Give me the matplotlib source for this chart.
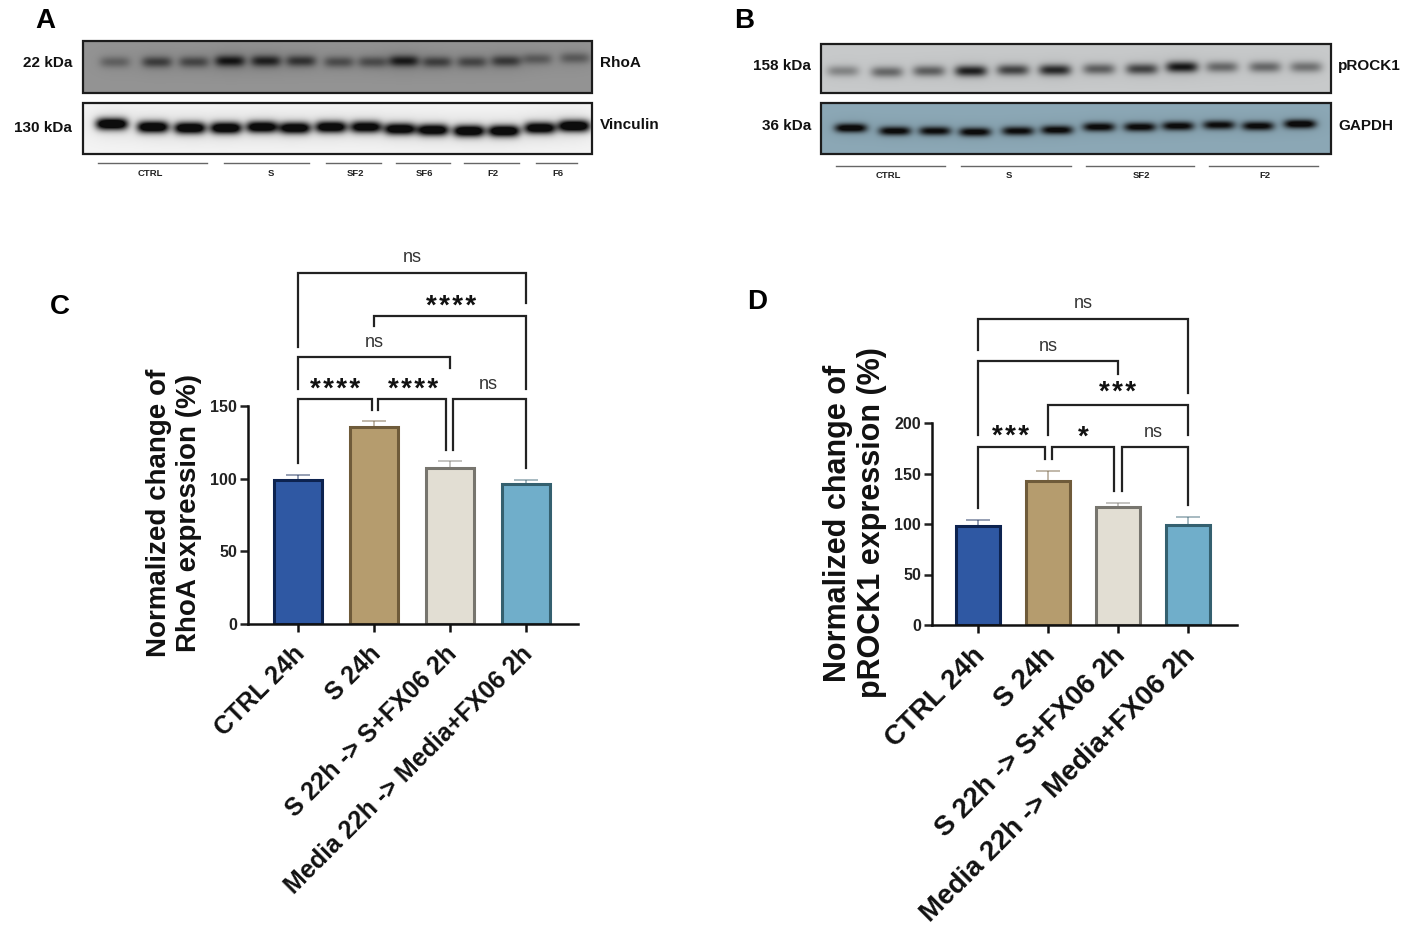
import numpy as np
import matplotlib
matplotlib.use("Agg")
import matplotlib.pyplot as plt
from matplotlib.patches import Rectangle
from matplotlib.transforms import ScaledTranslation

plt.rcParams['font.family'] = ['Liberation Sans', 'DejaVu Sans']
W, H = 1417, 944

groups = ['CTRL 24h', 'S 24h', 'S 22h -> S+FX06 2h', 'Media 22h -> Media+FX06 2h']
bar_colors = ['#2f58a3', '#b59c6e', '#e2ded3', '#70aeca']
edge_colors = ['#0d2350', '#6f5b3a', '#77756e', '#34606f']

rhoa_vals = [99, 135.5, 107, 96.5]
rhoa_tops = [102.5, 139.7, 112, 99]
rock_vals = [98.5, 142.5, 116.5, 99.5]
rock_tops = [103.5, 152, 121, 107]

# x1, x2, y, end of left leg, end of right leg
rhoa_brackets = [(0, 3, 241.5, 190.6, 221), (1, 3, 212, 205, 162), (0, 2, 183.6, 162, 176),
                 (0, 0.97, 155, 111, 147), (1.05, 1.95, 155, 147, 120), (2.04, 3, 155, 120, 107)]
rock_brackets = [(0, 3, 303, 272, 230), (0, 2, 261, 188, 248.5), (1, 3, 218, 188, 188),
                 (0, 0.96, 176, 116, 164), (1.06, 1.94, 176, 164, 133), (2.06, 3, 176, 133, 119)]
# text, x, y
rhoa_notes = [('ns', 1.5, 252), ('****', 2.01, 218), ('ns', 1.0, 194),
              ('****', 0.49, 161), ('****', 1.51, 161), ('ns', 2.5, 164.5)]
rock_notes = [('ns', 1.5, 318), ('ns', 1.0, 276), ('***', 2.0, 230),
              ('***', 0.47, 186), ('*', 1.5, 186), ('ns', 2.5, 191)]

# blots: lane x, lane y, band strength
rhoa_x = [115, 157, 194, 230, 266, 301, 339, 373, 404, 437, 472, 506, 537, 575]
rhoa_y = [62, 62, 62, 61, 61, 61, 62, 62, 61, 62, 62, 61, 59, 58]
rhoa_s = [0.35, 0.62, 0.55, 0.95, 0.85, 0.7, 0.5, 0.5, 0.9, 0.6, 0.55, 0.65, 0.4, 0.4]
vinc_x = [112, 153, 190, 226, 262, 295, 331, 366, 400, 433, 469, 504, 540, 574]
vinc_y = [124, 127, 128, 128, 127, 128, 127, 127, 129, 130, 131, 131, 128, 126]
vinc_s = [1.4, 1.35, 1.35, 1.35, 1.3, 1.3, 1.3, 1.25, 1.3, 1.3, 1.35, 1.35, 1.3, 1.4]
prock_x = [843, 887, 929, 971, 1013, 1055, 1099, 1142, 1182, 1222, 1265, 1306]
prock_y = [71, 72, 71, 71, 70, 70, 69, 69, 67, 67, 67, 67]
prock_s = [0.35, 0.5, 0.55, 0.9, 0.7, 0.85, 0.55, 0.7, 0.95, 0.5, 0.5, 0.45]
gapdh_x = [851, 895, 935, 975, 1018, 1057, 1099, 1140, 1178, 1219, 1258, 1300]
gapdh_y = [128, 131, 131, 132, 131, 130, 127, 127, 126, 125, 126, 124]
gapdh_s = [1.2, 1.1, 1.05, 1.1, 1.05, 1.1, 1.1, 1.1, 1.1, 1.05, 1.1, 1.2]

# panel A and B group lines: x1, x2, label, label x
a_lines = [(98, 207, 'CTRL', 150), (224, 309, 'S', 271), (326, 381, 'SF2', 355),
           (396, 450, 'SF6', 424), (464, 519, 'F2', 493), (536, 577, 'F6', 558)]
b_lines = [(836, 945, 'CTRL', 888), (961, 1071, 'S', 1009), (1086, 1194, 'SF2', 1141),
           (1209, 1318, 'F2', 1265)]

fig = plt.figure(figsize=(W / 100, H / 100), dpi=100)

# overlay in picture pixels for the blots and their labels
top = fig.add_axes([0, 0, 1, 1])
top.axis('off')


def blot(box, xs, ys, ss, bg, halo, wx, wy):
    x0, y0, x1, y1 = box
    xx, yy = np.meshgrid(np.arange(x0, x1) + 0.5, np.arange(y0, y1) + 0.5)
    dark = np.zeros(xx.shape)
    glow = np.zeros(xx.shape)
    for cx, cy, s in zip(xs, ys, ss):
        dark += s * np.exp(-((xx - cx) / wx) ** 4 - ((yy - cy) / wy) ** 2)
        glow += s * np.exp(-((xx - cx) / (wx * 1.5)) ** 2 - ((yy - cy) / (wy * 2.5)) ** 2)
    dark = np.clip(dark, 0, 1)[..., None]
    glow = np.clip(glow, 0, 1)[..., None]
    img = np.array(bg, float) * (1 - halo * glow)
    img = img * (1 - dark) + 12 * dark
    top.imshow(img.astype(np.uint8), extent=(x0, x1, y1, y0), aspect='auto', interpolation='bilinear', zorder=1)
    top.add_patch(Rectangle((x0, y0), x1 - x0, y1 - y0, fill=False, ec='#1c1c1c', lw=1.6, zorder=2))


blot((83, 41, 592, 93), rhoa_x, rhoa_y, rhoa_s, (148, 148, 148), 0.12, 15, 5.5)
blot((83, 103, 592, 154), vinc_x, vinc_y, vinc_s, (244, 244, 244), 0.06, 16, 6)
blot((821, 44, 1331, 93), prock_x, prock_y, prock_s, (200, 202, 203), 0.06, 16, 5.5)
blot((821, 103, 1331, 154), gapdh_x, gapdh_y, gapdh_s, (140, 168, 182), 0.05, 16, 4.5)

for x1, x2, name, lx in a_lines:
    top.plot([x1, x2], [163, 163], color='#666666', lw=1, zorder=2)
    top.text(lx, 173, name, fontsize=6.8, fontweight='bold', ha='center', va='center', color='#222222')
for x1, x2, name, lx in b_lines:
    top.plot([x1, x2], [166, 166], color='#666666', lw=1, zorder=2)
    top.text(lx, 176, name, fontsize=6.8, fontweight='bold', ha='center', va='center', color='#222222')

for s, x, y in [('22 kDa', 72, 63), ('130 kDa', 72, 128), ('158 kDa', 811, 66), ('36 kDa', 811, 126)]:
    top.text(x, y, s, fontsize=11, fontweight='bold', ha='right', va='center', color='#111111')
for s, x, y in [('RhoA', 600, 63), ('Vinculin', 600, 125), ('pROCK1', 1338, 66), ('GAPDH', 1338, 126)]:
    top.text(x, y, s, fontsize=11, fontweight='bold', ha='left', va='center', color='#111111')
for s, x, y in [('A', 45, 21), ('B', 744, 21), ('C', 60, 307), ('D', 757, 302)]:
    top.text(x, y, s, fontsize=20, fontweight='bold', ha='center', va='center', color='black')

top.text(174, 513, 'Normalized change of\nRhoA expression (%)', rotation=90, fontsize=20, fontweight='bold',
         ha='center', va='center', linespacing=1.2, color='#111111')
top.text(855, 523, 'Normalized change of\npROCK1 expression (%)', rotation=90, fontsize=22, fontweight='bold',
         ha='center', va='center', linespacing=1.2, color='#111111')
top.set_xlim(0, W)
top.set_ylim(H, 0)


def bar_panel(box, xlim, ymax, yticks, vals, tops, brackets, notes, label_size):
    l, t, r, b = box
    ax = fig.add_axes([l / W, 1 - b / H, (r - l) / W, (b - t) / H])
    ax.patch.set_alpha(0)
    xs = np.arange(len(vals))
    ax.bar(xs, vals, width=0.64, color=bar_colors, edgecolor=edge_colors, linewidth=2.2, zorder=2)
    for x, v, tp, ec in zip(xs, vals, tops, edge_colors):
        ax.errorbar(x, v, yerr=[[0], [tp - v]], color=ec, alpha=0.55, capsize=8.5, capthick=1.1, elinewidth=1.1, zorder=1)
    ax.set_xlim(*xlim)
    ax.set_ylim(0, ymax)
    ax.set_yticks(yticks)
    ax.set_xticks(xs)
    ax.set_xticklabels(groups, rotation=45, ha='right', rotation_mode='anchor', fontsize=label_size, fontweight='bold')
    ax.tick_params(axis='x', length=5.5, width=1.8, pad=7, colors='#111111')
    ax.tick_params(axis='y', length=5.8, width=1.8, pad=2, labelsize=11.5, colors='#222222')
    shift = ScaledTranslation(-4 / 72, 0, fig.dpi_scale_trans)
    for tick in ax.get_xticklabels():
        tick.set_transform(tick.get_transform() + shift)
    for tick in ax.get_yticklabels():
        tick.set_fontweight('bold')
    for side in ['top', 'right']:
        ax.spines[side].set_visible(False)
    for side in ['left', 'bottom']:
        ax.spines[side].set_linewidth(1.8)
        ax.spines[side].set_color('#111111')
    for x1, x2, y, e1, e2 in brackets:
        ax.plot([x1, x1, x2, x2], [e1, y, y, e2], color='#222222', lw=1.6, clip_on=False,
                solid_joinstyle='miter', zorder=3)
    for s, x, y in notes:
        is_star = s.startswith('*')
        shown = '\u200a'.join(s) if is_star else s
        ax.text(x, y, shown, ha='center', va='center', clip_on=False, color='#111111' if is_star else '#333333',
                fontsize=20 if is_star else 13, fontweight='bold' if is_star else 'normal')
    return ax


bar_panel((248, 406, 578, 624), (-0.658, 3.684), 150, [0, 50, 100, 150],
          rhoa_vals, rhoa_tops, rhoa_brackets, rhoa_notes, 18)
bar_panel((932, 423, 1237, 625), (-0.657, 3.7), 200, [0, 50, 100, 150, 200],
          rock_vals, rock_tops, rock_brackets, rock_notes, 20)

fig.savefig('out.png', dpi=100, facecolor='white')
